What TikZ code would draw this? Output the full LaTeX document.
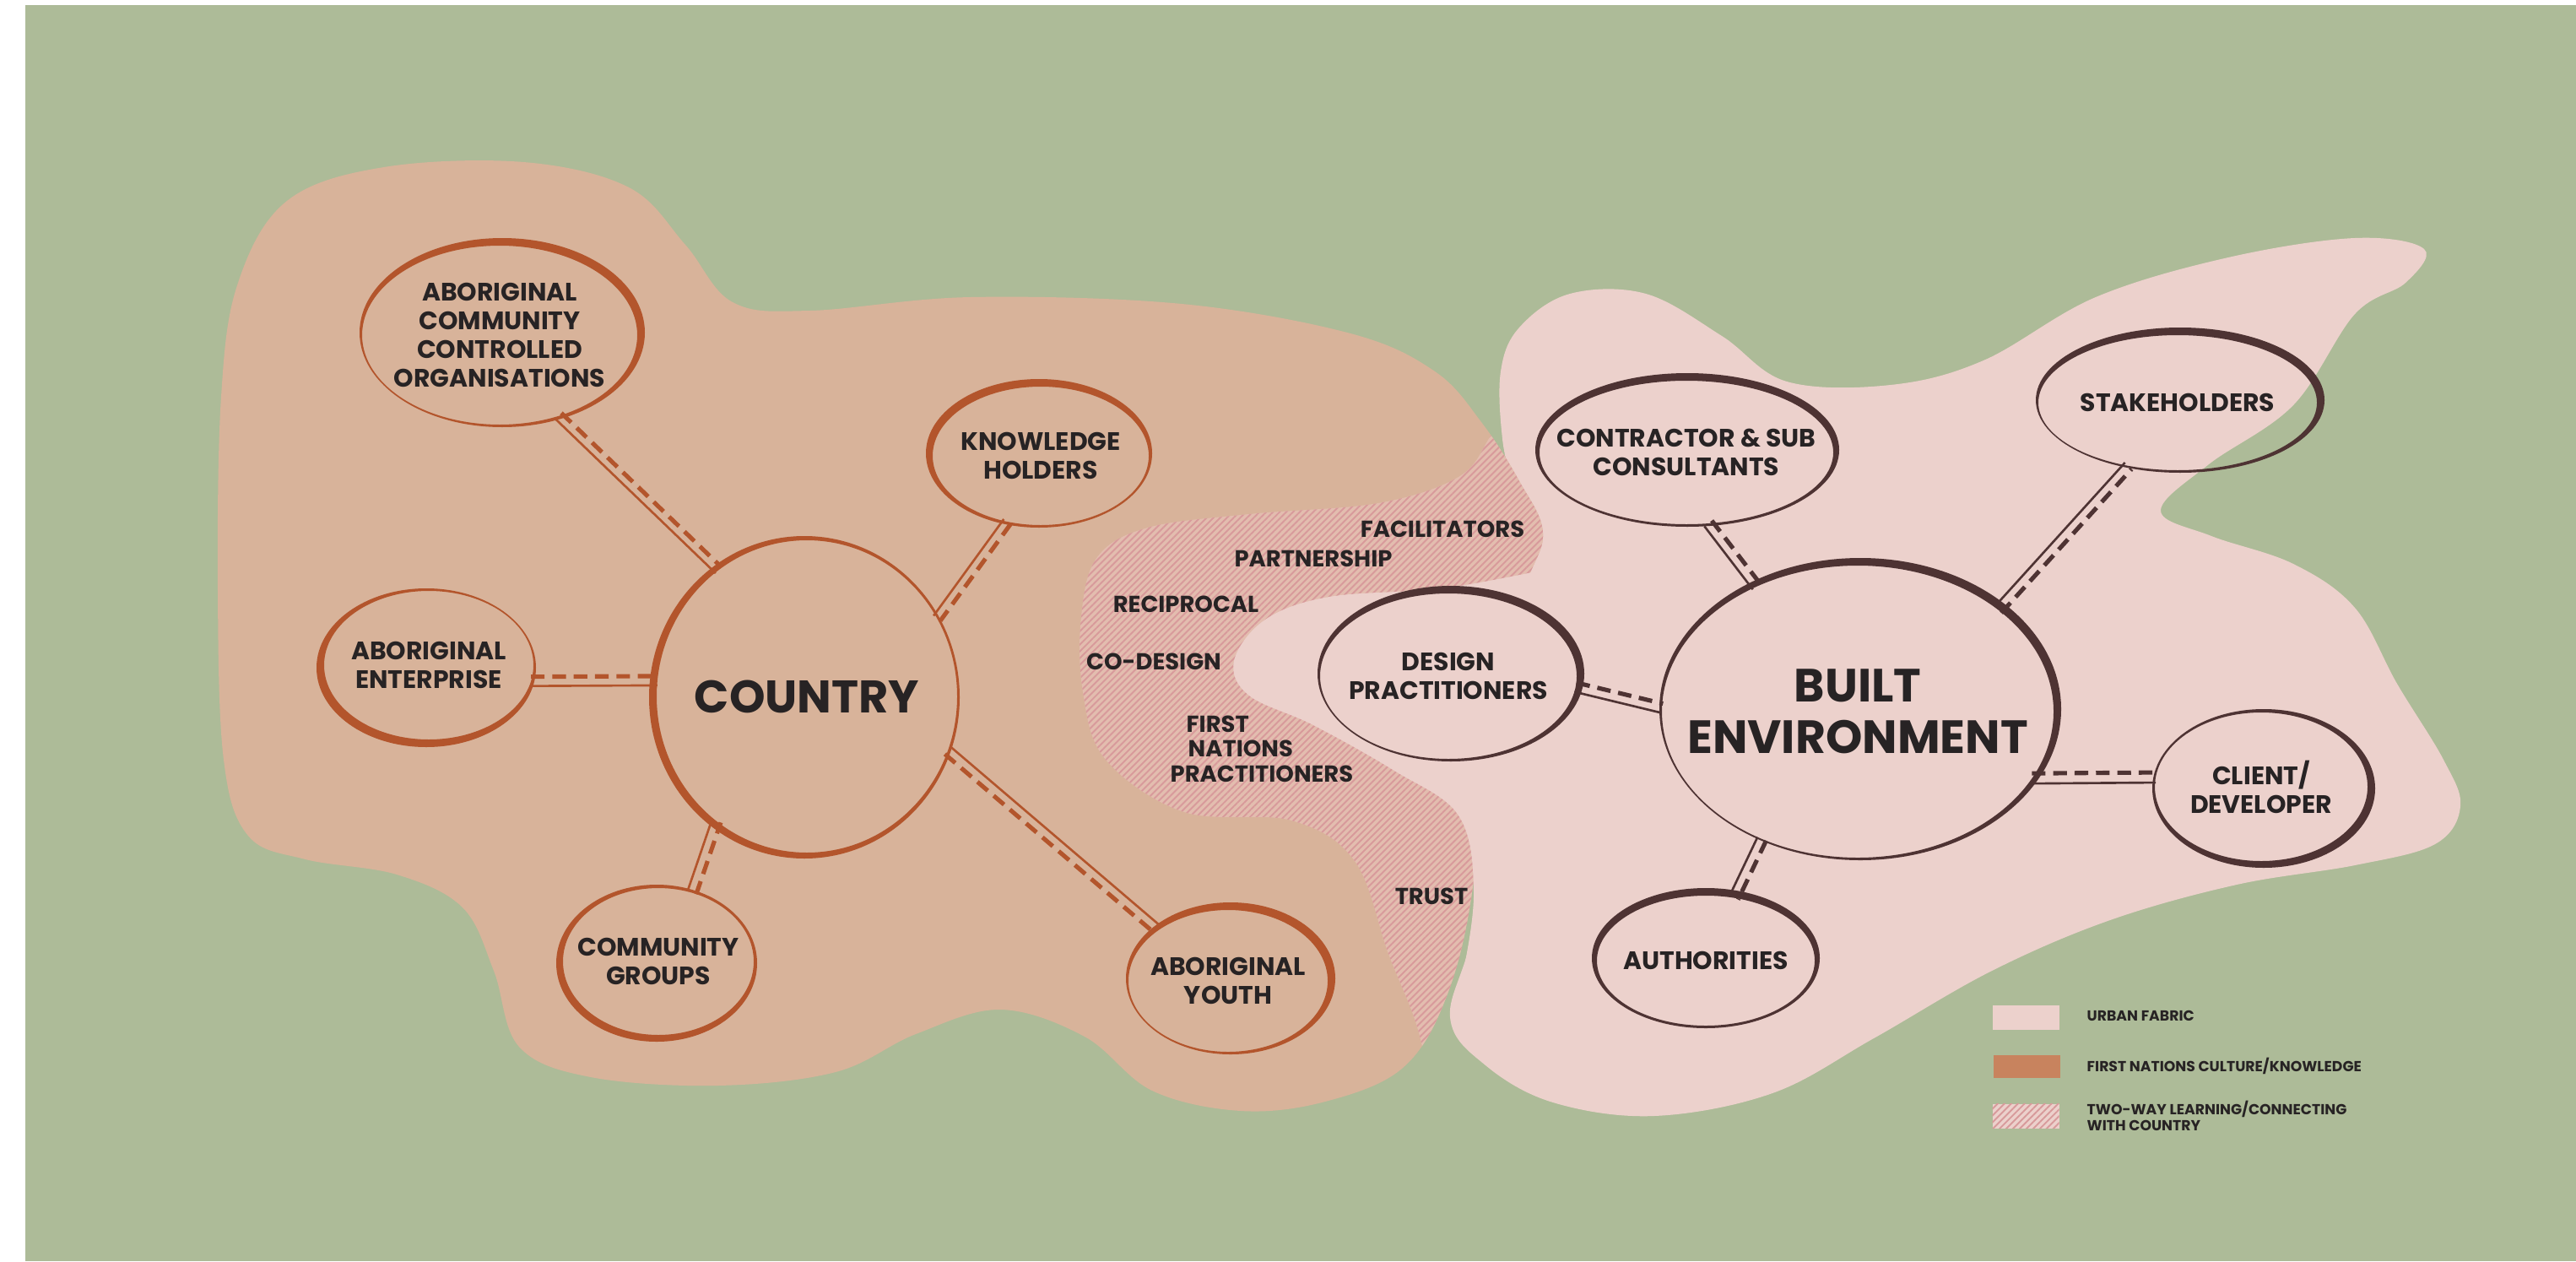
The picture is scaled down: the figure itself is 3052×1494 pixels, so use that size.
\documentclass[tikz,border=0pt]{standalone}
\usepackage{fontspec}
\setmainfont{Poppins}
\usetikzlibrary{shapes.geometric,patterns.meta}

\definecolor{bggreen}{HTML}{ADBB98}
\definecolor{tanfill}{HTML}{D8B39A}
\definecolor{pinkfill}{HTML}{ECD1CC}
\definecolor{hatchbase}{HTML}{E3BDAF}
\definecolor{hatchline}{HTML}{D89A9B}
\definecolor{rust}{HTML}{B3552C}
\definecolor{brownink}{HTML}{4E3333}
\definecolor{inktext}{HTML}{272324}
\definecolor{legendtan}{HTML}{C8835E}

\tikzset{
  blobshape/.style={ellipse, inner sep=0pt, outer sep=0pt},
  blob/.style={inner sep=0pt, text=inktext, align=center,
    font=\bfseries\fontsize{8.5}{9.7}\selectfont},
  linksolid/.style={line width=0.75pt},
  linkdash/.style={line width=1.45pt, dash pattern=on 4.6pt off 2.6pt},
  bandlabel/.style={text=inktext, inner sep=0pt, font=\bfseries\fontsize{7.8}{8.4}\selectfont},
  legendtext/.style={text=inktext, inner sep=0pt, align=left, font=\bfseries\fontsize{4.9}{5.4}\selectfont},
  legendsw/.style={inner sep=0pt, minimum width=0.79cm, minimum height=0.29cm},
  hatched/.style={pattern={Lines[angle=45,distance=1.6pt,line width=0.55pt]}, pattern color=hatchline},
}

% #1 name, #2 cx, #3 cy, #4 rx, #5 ry, #6 dx, #7 dy, #8 colour/options, #9 text
\newcommand\blobnode[9]{%
  \fill[#8, even odd rule] ({#2+#6},{#3+#7}) ellipse [x radius={#4+6}, y radius={#5+6}]
       (#2,#3) ellipse [x radius=#4, y radius=#5];
  \node[blobshape, minimum width={2*#4*0.01cm}, minimum height={2*#5*0.01cm}] (#1) at (#2,#3) {};
  \node[blob, #8, text=inktext] (#1txt) at (#1.center) {#9};
}
% #1 from, #2 to, #3 #4 shift of dashed line, #5 colour
\newcommand\linkpair[5]{%
  \draw[linksolid, #5, transform canvas={shift={({-1*(#3)},{-1*(#4)})}}] (#1) -- (#2);
  \draw[linkdash, #5, transform canvas={shift={(#3,#4)}}] (#1) -- (#2);
}

\begin{document}
\begin{tikzpicture}[x=0.01cm, y=-0.01cm]
\useasboundingbox (0,0) rectangle (3052,1494);
\fill[white] (0,0) rectangle (3052,1494);
\fill[bggreen] (30,6) rectangle (3052,1494);

% urban fabric (pink)
\fill[pinkfill] plot[smooth cycle, tension=0.6] coordinates {
 (1780,520) (1778,440) (1800,388) (1860,348) (1950,348) (2040,398) (2117,452) (2240,456)
 (2350,427) (2483,352) (2640,305) (2790,282) (2872,295) (2850,335) (2790,372) (2717,480)
 (2617,550) (2560,605) (2620,635) (2717,668) (2790,720) (2840,810) (2895,900) (2915,955)
 (2885,1000) (2790,1025) (2650,1048) (2500,1090) (2360,1150) (2220,1230) (2100,1295)
 (1960,1322) (1840,1306) (1760,1262) (1718,1205) (1745,1100) (1765,900) (1800,720) (1795,600)};

% first nations culture (tan)
\path[save path=\tanshape] plot[smooth cycle, tension=0.6] coordinates {
 (262,470) (282,335) (340,238) (455,198) (620,192) (745,222) (812,290) (868,358) (960,368)
 (1150,352) (1400,360) (1600,395) (1700,440) (1755,500) (1800,570) (1828,632) (1805,700)
 (1760,850) (1745,1050) (1714,1180) (1662,1265) (1570,1305) (1470,1316) (1365,1292)
 (1285,1228) (1185,1196) (1085,1225) (990,1270) (850,1286) (700,1276) (615,1240) (585,1150)
 (548,1075) (470,1036) (362,1018) (294,990) (265,900) (258,700)};
\fill[tanfill, use path=\tanshape];

% two-way learning band (hatched)
\begin{scope}
\clip[use path=\tanshape];
\path[fill=hatchbase, postaction={hatched}] (1900,440) -- plot[smooth, tension=0.6] coordinates {
 (1790,470) (1765,518) (1728,565) (1633,596) (1480,609) (1360,625) (1300,660) (1281,730)
 (1283,820) (1310,900) (1403,962) (1530,972) (1605,1020) (1645,1130) (1680,1220) (1700,1320)}
 -- (1900,1320) -- cycle;
\end{scope}

% pink tongue reaching into the band
\fill[pinkfill] (1900,672) -- plot[smooth, tension=0.6] coordinates {
 (1830,675) (1709,697) (1575,707) (1499,734) (1462,783) (1480,824) (1556,859) (1652,913)
 (1728,966) (1746,1056) (1732,1160) (1718,1205)} -- (1800,1200) -- (1900,1200) -- cycle;

% band labels
\node[bandlabel] (facil) at (1709,627) {FACILITATORS};
\node[bandlabel] (partner) at (1556,662) {PARTNERSHIP};
\node[bandlabel] (recip) at (1405,716) {RECIPROCAL};
\node[bandlabel] (codesign) at (1367,784) {CO-DESIGN};
\node[bandlabel, align=left, anchor=west] (fnp) at (1386,887)
  {\hspace*{0.19cm}FIRST\\\hspace*{0.21cm}NATIONS\\PRACTITIONERS};
\node[bandlabel] (trust) at (1696,1062) {TRUST};

% left cluster
\blobnode{acco}{592}{397}{163}{106}{3}{-3}{rust}{ABORIGINAL\\COMMUNITY\\CONTROLLED\\ORGANISATIONS}
\blobnode{know}{1233}{540}{128}{82}{-2}{-3}{rust}{KNOWLEDGE\\HOLDERS}
\blobnode{ent}{508}{788}{124}{88}{-3}{3}{rust}{ABORIGINAL\\ENTERPRISE}
\blobnode{country}{956}{825}{178}{185}{-3}{1}{rust, font=\bfseries\fontsize{15.4}{18}\selectfont}{COUNTRY}
\blobnode{comm}{780}{1139}{113}{87}{-2}{2}{rust}{COMMUNITY\\GROUPS}
\blobnode{youth}{1455}{1162}{118}{84}{3}{-3}{rust}{ABORIGINAL\\YOUTH}

% right cluster
\blobnode{contr}{1998}{536}{174}{85}{1}{-3}{brownink}{CONTRACTOR \& SUB\\CONSULTANTS}
\blobnode{design}{1716}{801}{152}{98}{3}{-3}{brownink}{DESIGN\\PRACTITIONERS}
\blobnode{built}{2201}{843}{232}{173}{3}{-3}{brownink, font=\bfseries\fontsize{15.7}{17.4}\selectfont}{BUILT\\ENVIRONMENT}
\blobnode{stake}{2580}{477}{165}{80}{3}{-3}{brownink}{STAKEHOLDERS}
\blobnode{client}{2679}{932}{126}{88}{3}{2}{brownink}{CLIENT/\\DEVELOPER}
\blobnode{auth}{2021}{1138}{129}{77}{0}{-3}{brownink}{AUTHORITIES}

% connectors
\linkpair{acco.-54.6}{country.125}{3.4}{-3.6}{rust}
\linkpair{know.243.7}{country.31}{4}{2.95}{rust}
\linkpair{ent.-9.9}{country.174.8}{0}{-5.5}{rust}
\linkpair{comm.64.9}{country.234.6}{5.2}{1.7}{rust}
\linkpair{country.-21.3}{youth.144.6}{-3.5}{4.2}{rust}
\linkpair{contr.-73.1}{built.129.5}{4.4}{-3.3}{brownink}
\linkpair{design.-5.3}{built.179.3}{1.2}{-5.4}{brownink}
\linkpair{built.36.5}{stake.232.2}{3.9}{3.8}{brownink}
\linkpair{built.-21.6}{client.175.4}{0}{-6}{brownink}
\linkpair{built.233.1}{auth.66.9}{5.1}{2.1}{brownink}

% legend
\node[legendsw, fill=pinkfill] (sw1) at (2400,1205) {};
\node[legendtext, anchor=west] (lt1) at (2472,1203) {URBAN FABRIC};
\node[legendsw, fill=legendtan, minimum height=0.27cm] (sw2) at (2401,1263) {};
\node[legendtext, anchor=west] (lt2) at (2472,1263) {FIRST NATIONS CULTURE/KNOWLEDGE};
\node[legendsw, fill=pinkfill, postaction={hatched}] (sw3) at (2400,1322) {};
\node[legendtext, anchor=west] (lt3) at (2472,1322) {TWO-WAY LEARNING/CONNECTING\\WITH COUNTRY};
\end{tikzpicture}
\end{document}
